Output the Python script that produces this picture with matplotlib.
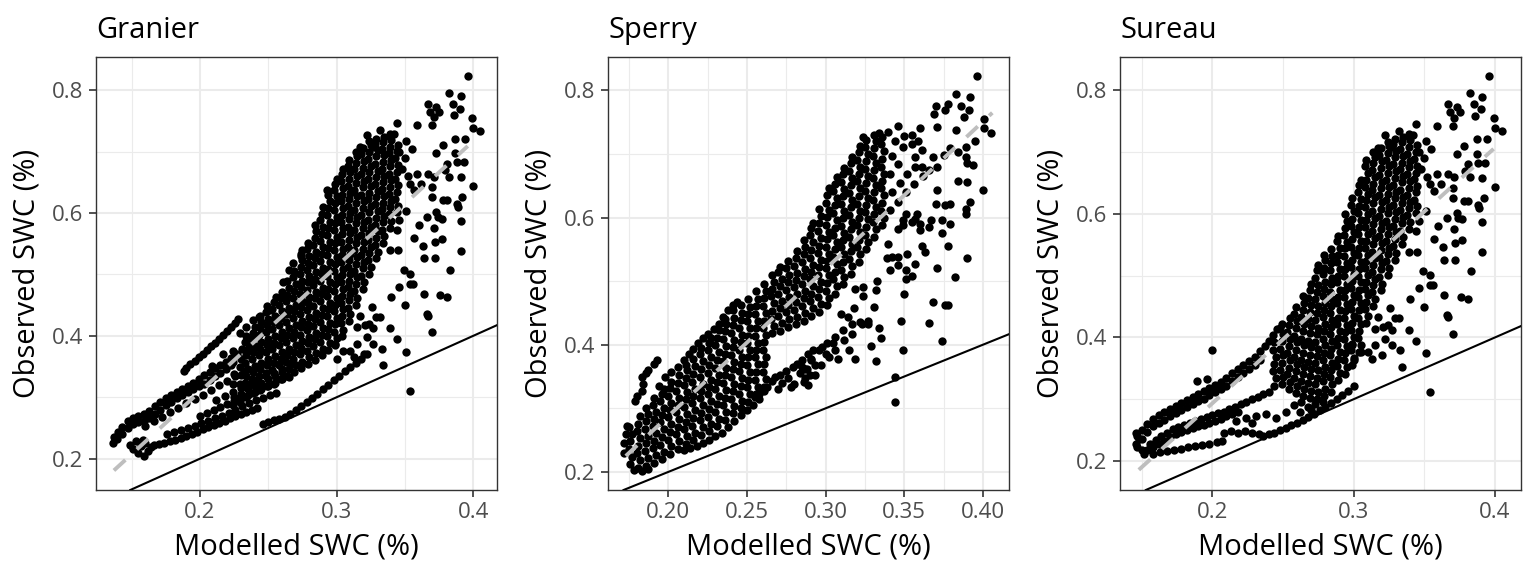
import numpy as np
import matplotlib
matplotlib.use("Agg")
import matplotlib.pyplot as plt
from matplotlib.ticker import FixedLocator

plt.rcParams['font.family'] = ['Open Sans', 'DejaVu Sans']

# (modelled SWC, observed SWC) pairs, grouped by region

# Granier: streaks in the dry (lower-left) part
granier_bands = [
    # thin upper streak
    (0.188,0.342),(0.190,0.348),(0.193,0.354),(0.196,0.359),(0.199,0.365),(0.202,0.371),(0.205,0.377),(0.208,0.383),
    (0.211,0.389),(0.214,0.395),(0.217,0.401),(0.220,0.408),(0.223,0.414),(0.226,0.421),(0.228,0.428),
    # upper band
    (0.137,0.236),(0.140,0.244),(0.143,0.252),(0.147,0.262),(0.151,0.267),(0.155,0.270),(0.159,0.272),(0.163,0.278),
    (0.167,0.285),(0.171,0.292),(0.175,0.298),(0.179,0.304),(0.183,0.309),(0.187,0.314),(0.191,0.318),(0.195,0.324),
    (0.199,0.330),(0.203,0.336),(0.207,0.341),(0.211,0.347),(0.215,0.352),(0.219,0.358),(0.223,0.364),(0.227,0.371),(0.231,0.378),
    (0.136,0.226),(0.139,0.232),(0.143,0.240),(0.147,0.250),(0.151,0.256),(0.155,0.260),(0.159,0.262),(0.163,0.266),
    (0.167,0.272),(0.171,0.280),(0.175,0.287),(0.179,0.293),(0.183,0.298),(0.187,0.303),(0.191,0.308),(0.195,0.313),
    (0.199,0.318),(0.203,0.322),(0.207,0.328),(0.211,0.334),(0.215,0.340),(0.219,0.346),(0.223,0.352),
    (0.160,0.253),(0.166,0.262),(0.172,0.268),(0.178,0.276),(0.184,0.283),(0.190,0.290),(0.196,0.297),(0.202,0.304),
    (0.208,0.312),(0.214,0.320),(0.220,0.327),(0.226,0.335),(0.232,0.343),
    # lower-left cluster
    (0.149,0.222),(0.151,0.215),(0.153,0.228),(0.155,0.210),(0.157,0.220),(0.159,0.205),(0.160,0.226),(0.162,0.213),
    (0.164,0.219),(0.158,0.231),
    # lower bands
    (0.166,0.222),(0.170,0.224),(0.174,0.226),(0.178,0.228),(0.182,0.231),(0.186,0.234),(0.190,0.237),(0.194,0.240),
    (0.198,0.244),(0.202,0.248),(0.206,0.251),(0.210,0.255),(0.214,0.258),(0.218,0.262),(0.222,0.266),(0.226,0.269),
    (0.230,0.273),(0.234,0.276),(0.238,0.280),(0.242,0.283),
    (0.176,0.240),(0.181,0.243),(0.186,0.246),(0.191,0.250),(0.196,0.254),(0.201,0.258),(0.206,0.262),(0.211,0.266),
    (0.216,0.270),(0.221,0.275),(0.226,0.280),(0.231,0.285),(0.236,0.290),(0.241,0.295),(0.246,0.299),(0.251,0.303),(0.256,0.307),
    (0.200,0.270),(0.205,0.274),(0.210,0.279),(0.215,0.284),(0.220,0.289),(0.225,0.294),(0.230,0.299),(0.235,0.304),
    (0.240,0.309),(0.245,0.314),(0.250,0.319),(0.255,0.324),(0.260,0.329),(0.265,0.333),
    (0.212,0.296),(0.218,0.302),(0.224,0.308),(0.230,0.315),(0.236,0.322),(0.242,0.328),(0.248,0.334),(0.254,0.340),
    (0.260,0.346),(0.266,0.352),
    (0.224,0.288),(0.225,0.300),(0.224,0.322),(0.225,0.338),(0.224,0.358),
    (0.229,0.292),(0.230,0.306),(0.229,0.322),(0.230,0.336),(0.229,0.350),(0.230,0.362),
    # lowest streak, close to the 1:1 line
    (0.246,0.256),(0.250,0.260),(0.254,0.263),(0.258,0.265),(0.262,0.268),(0.266,0.272),(0.270,0.279),(0.274,0.285),
    (0.278,0.292),(0.282,0.299),(0.286,0.306),(0.290,0.313),(0.294,0.320),(0.298,0.328),(0.302,0.335),(0.306,0.342),
    (0.310,0.349),(0.314,0.356),(0.318,0.363),(0.322,0.370),
    # loose points above the bands
    (0.229,0.404),(0.234,0.414),(0.239,0.425),(0.243,0.431),(0.251,0.442),(0.261,0.487),(0.265,0.508),(0.268,0.518),
    (0.274,0.530),(0.275,0.539),(0.236,0.387),(0.224,0.376),(0.217,0.371),(0.209,0.351),
]

# Granier: dense cloud, middle part
granier_core = [
    (0.234,0.301),(0.235,0.313),(0.233,0.323),(0.234,0.335),(0.235,0.346),(0.233,0.356),(0.234,0.368),(0.235,0.378),(0.233,0.390),(0.234,0.399),
    (0.239,0.307),(0.240,0.318),(0.238,0.329),(0.239,0.341),(0.240,0.351),(0.238,0.362),(0.239,0.373),(0.240,0.384),(0.238,0.395),(0.239,0.405),(0.240,0.414),
    (0.244,0.312),(0.245,0.324),(0.243,0.335),(0.244,0.346),(0.245,0.356),(0.243,0.368),(0.244,0.379),(0.245,0.390),(0.243,0.401),(0.244,0.412),(0.245,0.422),(0.244,0.433),
    (0.249,0.318),(0.250,0.329),(0.248,0.340),(0.249,0.352),(0.250,0.362),(0.248,0.373),(0.249,0.385),(0.250,0.395),(0.248,0.406),(0.249,0.417),(0.250,0.428),(0.248,0.439),(0.249,0.448),
    (0.254,0.322),(0.255,0.334),(0.253,0.345),(0.254,0.356),(0.255,0.367),(0.253,0.378),(0.254,0.389),(0.255,0.400),(0.253,0.411),(0.254,0.422),(0.255,0.433),(0.253,0.444),(0.254,0.455),(0.256,0.463),
    (0.259,0.329),(0.260,0.341),(0.258,0.352),(0.259,0.363),(0.260,0.373),(0.258,0.385),(0.259,0.396),(0.260,0.407),(0.258,0.418),(0.259,0.429),(0.260,0.440),(0.258,0.451),(0.259,0.462),(0.260,0.472),
    (0.264,0.335),(0.265,0.346),(0.263,0.358),(0.264,0.369),(0.265,0.379),(0.263,0.390),(0.264,0.402),(0.265,0.412),(0.263,0.423),(0.264,0.435),(0.265,0.445),(0.263,0.456),(0.264,0.467),(0.265,0.478),(0.264,0.489),
    (0.269,0.341),(0.270,0.352),(0.268,0.363),(0.269,0.374),(0.270,0.385),(0.268,0.396),(0.269,0.407),(0.270,0.418),(0.268,0.429),(0.269,0.440),(0.270,0.451),(0.268,0.462),(0.269,0.473),(0.270,0.484),(0.268,0.495),(0.269,0.505),
    (0.274,0.347),(0.275,0.358),(0.273,0.370),(0.274,0.381),(0.275,0.391),(0.273,0.402),(0.274,0.414),(0.275,0.424),(0.273,0.435),(0.274,0.447),(0.275,0.457),(0.273,0.468),(0.274,0.479),(0.275,0.490),(0.273,0.501),(0.274,0.512),(0.275,0.523),(0.274,0.533),
    (0.279,0.354),(0.280,0.365),(0.278,0.376),(0.279,0.388),(0.280,0.398),(0.278,0.409),(0.279,0.420),(0.280,0.431),(0.278,0.442),(0.279,0.453),(0.280,0.464),(0.278,0.475),(0.279,0.487),(0.280,0.497),(0.278,0.508),(0.279,0.519),(0.280,0.530),(0.278,0.541),(0.279,0.551),
    (0.284,0.361),(0.285,0.372),(0.283,0.383),(0.284,0.395),(0.285,0.405),(0.283,0.416),(0.284,0.427),(0.285,0.438),(0.283,0.449),(0.284,0.461),(0.285,0.471),(0.283,0.482),(0.284,0.493),(0.285,0.504),(0.283,0.515),(0.284,0.527),(0.285,0.537),(0.283,0.548),(0.284,0.559),(0.285,0.570),(0.284,0.581),
    (0.289,0.368),(0.290,0.379),(0.288,0.390),(0.289,0.402),(0.290,0.412),(0.288,0.423),(0.289,0.434),(0.290,0.445),(0.288,0.456),(0.289,0.468),(0.290,0.478),(0.288,0.489),(0.289,0.500),(0.290,0.511),(0.288,0.522),(0.289,0.534),(0.290,0.544),(0.288,0.555),(0.289,0.566),(0.290,0.577),(0.288,0.588),(0.289,0.599),(0.290,0.609),
    (0.294,0.377),(0.295,0.388),(0.293,0.399),(0.294,0.411),(0.295,0.421),(0.293,0.432),(0.294,0.443),(0.295,0.454),(0.293,0.465),(0.294,0.477),(0.295,0.487),(0.293,0.498),(0.294,0.509),(0.295,0.520),(0.293,0.531),(0.294,0.543),(0.295,0.553),(0.293,0.564),(0.294,0.575),(0.295,0.586),(0.293,0.597),(0.294,0.608),(0.295,0.619),(0.294,0.630),(0.293,0.638),
    (0.299,0.385),(0.300,0.396),(0.298,0.407),(0.299,0.419),(0.300,0.429),(0.298,0.440),(0.299,0.451),(0.300,0.462),(0.298,0.473),(0.299,0.485),(0.300,0.495),(0.298,0.506),(0.299,0.517),(0.300,0.528),(0.298,0.539),(0.299,0.551),(0.300,0.561),(0.298,0.572),(0.299,0.583),(0.300,0.594),(0.298,0.605),(0.299,0.616),(0.300,0.627),(0.298,0.638),(0.299,0.648),(0.300,0.656),
    (0.304,0.399),(0.305,0.410),(0.303,0.421),(0.304,0.433),(0.305,0.443),(0.303,0.454),(0.304,0.465),(0.305,0.476),(0.303,0.487),(0.304,0.499),(0.305,0.509),(0.303,0.520),(0.304,0.531),(0.305,0.542),(0.303,0.553),(0.304,0.565),(0.305,0.575),(0.303,0.586),(0.304,0.597),(0.305,0.608),(0.303,0.619),(0.304,0.630),(0.305,0.641),(0.303,0.652),(0.304,0.663),(0.305,0.671),
]

# Granier and Sureau agree in the wet part: shared dense cloud and loose points
wet_core = [
    (0.309,0.424),(0.310,0.435),(0.308,0.446),(0.309,0.458),(0.310,0.468),(0.308,0.479),(0.309,0.490),(0.310,0.501),(0.308,0.512),(0.309,0.524),(0.310,0.534),(0.308,0.545),(0.309,0.556),(0.310,0.567),(0.308,0.578),(0.309,0.590),(0.310,0.600),(0.308,0.611),(0.309,0.622),(0.310,0.633),(0.308,0.644),(0.309,0.655),(0.310,0.666),(0.308,0.677),(0.309,0.687),
    (0.314,0.451),(0.315,0.462),(0.313,0.473),(0.314,0.485),(0.315,0.495),(0.313,0.506),(0.314,0.517),(0.315,0.528),(0.313,0.539),(0.314,0.551),(0.315,0.561),(0.313,0.572),(0.314,0.583),(0.315,0.594),(0.313,0.605),(0.314,0.617),(0.315,0.627),(0.313,0.638),(0.314,0.649),(0.315,0.660),(0.313,0.671),(0.314,0.682),(0.315,0.692),(0.314,0.700),
    (0.319,0.476),(0.320,0.487),(0.318,0.498),(0.319,0.510),(0.320,0.520),(0.318,0.531),(0.319,0.542),(0.320,0.553),(0.318,0.564),(0.319,0.576),(0.320,0.586),(0.318,0.597),(0.319,0.608),(0.320,0.619),(0.318,0.630),(0.319,0.642),(0.320,0.652),(0.318,0.663),(0.319,0.674),(0.320,0.685),(0.318,0.696),(0.319,0.706),
    (0.324,0.501),(0.325,0.512),(0.323,0.523),(0.324,0.535),(0.325,0.545),(0.323,0.556),(0.324,0.567),(0.325,0.578),(0.323,0.589),(0.324,0.601),(0.325,0.611),(0.323,0.622),(0.324,0.633),(0.325,0.644),(0.323,0.655),(0.324,0.667),(0.325,0.677),(0.323,0.688),(0.324,0.699),(0.325,0.710),(0.324,0.717),
    (0.329,0.526),(0.330,0.537),(0.328,0.548),(0.329,0.560),(0.330,0.570),(0.328,0.581),(0.329,0.592),(0.330,0.603),(0.328,0.614),(0.329,0.626),(0.330,0.636),(0.328,0.647),(0.329,0.658),(0.330,0.669),(0.328,0.680),(0.329,0.692),(0.330,0.702),(0.328,0.713),(0.329,0.721),
    (0.334,0.551),(0.335,0.562),(0.333,0.573),(0.334,0.585),(0.335,0.595),(0.333,0.606),(0.334,0.617),(0.335,0.628),(0.333,0.639),(0.334,0.651),(0.335,0.661),(0.333,0.672),(0.334,0.683),(0.335,0.694),(0.333,0.705),(0.334,0.716),(0.335,0.724),
    (0.339,0.576),(0.340,0.587),(0.338,0.598),(0.339,0.610),(0.340,0.620),(0.338,0.631),(0.339,0.642),(0.340,0.653),(0.338,0.664),(0.339,0.676),(0.340,0.686),(0.338,0.697),(0.339,0.708),(0.340,0.719),
    (0.344,0.601),(0.345,0.612),(0.343,0.623),(0.344,0.635),(0.345,0.645),(0.343,0.656),(0.344,0.667),(0.345,0.678),(0.343,0.689),(0.344,0.701),(0.345,0.711),
]

wet_sparse = [
    (0.332,0.735),(0.344,0.746),(0.322,0.727),(0.317,0.707),(0.327,0.708),(0.339,0.729),(0.351,0.718),(0.359,0.743),
    (0.367,0.778),(0.368,0.765),(0.373,0.773),(0.375,0.765),(0.371,0.756),(0.370,0.743),(0.382,0.796),(0.385,0.778),
    (0.386,0.759),(0.391,0.790),(0.390,0.770),(0.396,0.823),(0.399,0.755),(0.405,0.734),(0.400,0.739),(0.394,0.721),
    (0.387,0.721),(0.378,0.710),(0.373,0.697),(0.381,0.680),(0.387,0.697),(0.388,0.683),(0.393,0.683),(0.379,0.670),
    (0.382,0.659),(0.391,0.658),(0.371,0.659),(0.367,0.664),(0.359,0.664),(0.354,0.648),(0.362,0.648),(0.357,0.637),
    (0.370,0.642),(0.370,0.626),(0.378,0.621),(0.381,0.621),(0.388,0.615),(0.389,0.610),(0.392,0.626),(0.400,0.644),
    (0.391,0.587),(0.391,0.538),(0.383,0.508),(0.377,0.558),(0.372,0.553),(0.371,0.575),(0.372,0.526),(0.364,0.526),
    (0.363,0.546),(0.357,0.559),(0.360,0.580),(0.366,0.594),(0.374,0.594),(0.377,0.591),(0.373,0.602),(0.351,0.604),
    (0.346,0.588),(0.344,0.572),(0.339,0.539),(0.345,0.539),(0.349,0.507),(0.354,0.501),(0.354,0.485),(0.356,0.485),
    (0.346,0.480),(0.340,0.463),(0.350,0.450),(0.364,0.468),(0.366,0.436),(0.367,0.433),(0.370,0.406),(0.376,0.466),
    (0.381,0.463),(0.351,0.374),(0.354,0.311),(0.334,0.352),(0.333,0.379),(0.339,0.412),(0.344,0.395),(0.332,0.431),
    (0.329,0.431),(0.326,0.447),(0.324,0.420),(0.327,0.412),(0.322,0.398),(0.321,0.417),(0.317,0.433),(0.315,0.414),
    (0.310,0.376),(0.305,0.376),(0.300,0.363),(0.299,0.387),(0.315,0.387),(0.313,0.365),(0.320,0.371),(0.327,0.387),
    (0.350,0.690),(0.355,0.705),(0.348,0.672),(0.352,0.660),(0.346,0.700),(0.342,0.728),
]

# Sperry
sperry_bands = [
    # tangle and arm at the dry end
    (0.172,0.230),(0.172,0.245),(0.173,0.260),(0.174,0.272),(0.178,0.203),(0.183,0.201),(0.187,0.204),
    (0.183,0.328),(0.184,0.338),(0.183,0.349),(0.187,0.360),(0.191,0.370),(0.193,0.376),(0.186,0.355),(0.179,0.312),(0.180,0.320),
    # upper edge band
    (0.194,0.335),(0.198,0.349),(0.202,0.357),(0.206,0.365),(0.210,0.376),(0.213,0.386),(0.216,0.394),(0.219,0.402),
    (0.222,0.410),(0.225,0.417),(0.229,0.425),(0.232,0.433),(0.235,0.444),(0.238,0.454),(0.241,0.462),(0.244,0.467),
    # lower streak
    (0.210,0.234),(0.214,0.237),(0.218,0.241),(0.222,0.246),(0.226,0.251),(0.230,0.256),(0.234,0.262),(0.238,0.270),
    (0.242,0.280),(0.246,0.290),(0.250,0.298),(0.254,0.306),(0.258,0.314),
    # lower right cluster
    (0.263,0.334),(0.266,0.343),(0.268,0.349),(0.271,0.352),(0.272,0.340),(0.275,0.358),(0.276,0.347),(0.279,0.365),
    (0.280,0.339),(0.282,0.370),(0.284,0.355),(0.285,0.376),(0.287,0.362),(0.289,0.386),(0.290,0.352),(0.292,0.392),
    (0.293,0.368),(0.270,0.330),(0.278,0.333),(0.286,0.342),(0.255,0.318),(0.258,0.322),(0.261,0.327),
    # lower arm
    (0.285,0.365),(0.291,0.378),(0.296,0.391),(0.301,0.402),(0.306,0.412),(0.311,0.423),(0.317,0.433),(0.322,0.436),(0.327,0.438),
    # upper fill beyond the core
    (0.341,0.612),(0.342,0.640),(0.341,0.668),(0.342,0.696),(0.346,0.625),(0.347,0.655),(0.346,0.684),(0.351,0.640),
    (0.352,0.668),(0.356,0.652),(0.357,0.680),(0.362,0.665),(0.344,0.720),(0.350,0.728),(0.340,0.735),(0.355,0.730),
]

sperry_core = [
    (0.176,0.212),(0.177,0.224),(0.175,0.236),(0.176,0.248),(0.177,0.259),(0.175,0.270),
    (0.181,0.206),(0.182,0.218),(0.180,0.229),(0.181,0.241),(0.182,0.253),(0.180,0.264),(0.181,0.276),(0.182,0.288),
    (0.186,0.210),(0.187,0.222),(0.185,0.233),(0.186,0.245),(0.187,0.257),(0.185,0.268),(0.186,0.280),(0.187,0.291),(0.186,0.301),
    (0.191,0.214),(0.192,0.226),(0.190,0.237),(0.191,0.249),(0.192,0.261),(0.190,0.272),(0.191,0.284),(0.192,0.295),(0.190,0.306),(0.191,0.316),
    (0.196,0.220),(0.197,0.232),(0.195,0.243),(0.196,0.255),(0.197,0.267),(0.195,0.278),(0.196,0.290),(0.197,0.301),(0.195,0.312),(0.196,0.323),(0.197,0.331),
    (0.201,0.228),(0.202,0.240),(0.200,0.251),(0.201,0.263),(0.202,0.275),(0.200,0.286),(0.201,0.298),(0.202,0.309),(0.200,0.320),(0.201,0.332),(0.202,0.342),
    (0.206,0.236),(0.207,0.248),(0.205,0.259),(0.206,0.271),(0.207,0.283),(0.205,0.294),(0.206,0.306),(0.207,0.317),(0.205,0.328),(0.206,0.340),(0.207,0.352),
    (0.211,0.244),(0.212,0.256),(0.210,0.267),(0.211,0.279),(0.212,0.291),(0.210,0.302),(0.211,0.314),(0.212,0.325),(0.210,0.336),(0.211,0.348),(0.212,0.360),(0.211,0.368),
    (0.216,0.250),(0.217,0.262),(0.215,0.273),(0.216,0.285),(0.217,0.297),(0.215,0.308),(0.216,0.320),(0.217,0.331),(0.215,0.342),(0.216,0.354),(0.217,0.366),(0.216,0.378),
    (0.221,0.258),(0.222,0.270),(0.220,0.281),(0.221,0.293),(0.222,0.305),(0.220,0.316),(0.221,0.328),(0.222,0.339),(0.220,0.350),(0.221,0.362),(0.222,0.374),(0.220,0.385),(0.221,0.395),
    (0.226,0.264),(0.227,0.276),(0.225,0.287),(0.226,0.299),(0.227,0.311),(0.225,0.322),(0.226,0.334),(0.227,0.345),(0.225,0.356),(0.226,0.368),(0.227,0.380),(0.225,0.391),(0.226,0.402),(0.227,0.410),
    (0.231,0.272),(0.232,0.284),(0.230,0.295),(0.231,0.307),(0.232,0.319),(0.230,0.330),(0.231,0.342),(0.232,0.353),(0.230,0.364),(0.231,0.376),(0.232,0.388),(0.230,0.399),(0.231,0.411),(0.232,0.423),
    (0.236,0.282),(0.237,0.294),(0.235,0.305),(0.236,0.317),(0.237,0.329),(0.235,0.340),(0.236,0.352),(0.237,0.363),(0.235,0.374),(0.236,0.386),(0.237,0.398),(0.235,0.409),(0.236,0.421),(0.237,0.432),(0.236,0.440),
    (0.241,0.292),(0.242,0.304),(0.240,0.315),(0.241,0.327),(0.242,0.339),(0.240,0.350),(0.241,0.362),(0.242,0.373),(0.240,0.384),(0.241,0.396),(0.242,0.408),(0.240,0.419),(0.241,0.431),(0.242,0.442),(0.241,0.454),
    (0.246,0.300),(0.247,0.312),(0.245,0.323),(0.246,0.335),(0.247,0.347),(0.245,0.358),(0.246,0.370),(0.247,0.381),(0.245,0.392),(0.246,0.404),(0.247,0.416),(0.245,0.427),(0.246,0.439),(0.247,0.450),(0.246,0.462),
    (0.251,0.310),(0.252,0.322),(0.250,0.333),(0.251,0.345),(0.252,0.357),(0.250,0.368),(0.251,0.380),(0.252,0.391),(0.250,0.402),(0.251,0.414),(0.252,0.426),(0.250,0.437),(0.251,0.449),(0.252,0.460),(0.251,0.472),
    (0.256,0.322),(0.257,0.334),(0.255,0.345),(0.256,0.357),(0.257,0.369),(0.255,0.380),(0.256,0.392),(0.257,0.403),(0.255,0.414),(0.256,0.426),(0.257,0.438),(0.255,0.449),(0.256,0.461),(0.257,0.472),(0.256,0.484),
    (0.261,0.334),(0.262,0.346),(0.260,0.357),(0.261,0.369),(0.262,0.381),(0.260,0.392),(0.261,0.404),(0.262,0.415),(0.260,0.426),(0.261,0.438),(0.262,0.450),(0.260,0.461),(0.261,0.473),(0.262,0.484),(0.261,0.495),
    (0.266,0.418),(0.267,0.430),(0.265,0.441),(0.266,0.453),(0.267,0.465),(0.265,0.476),(0.266,0.488),(0.267,0.499),(0.266,0.509),
    (0.271,0.422),(0.272,0.434),(0.270,0.445),(0.271,0.457),(0.272,0.469),(0.270,0.480),(0.271,0.492),(0.272,0.503),(0.270,0.514),(0.271,0.522),
    (0.276,0.428),(0.277,0.440),(0.275,0.451),(0.276,0.463),(0.277,0.475),(0.275,0.486),(0.276,0.498),(0.277,0.509),(0.275,0.520),(0.276,0.532),
    (0.281,0.432),(0.282,0.444),(0.280,0.455),(0.281,0.467),(0.282,0.479),(0.280,0.490),(0.281,0.502),(0.282,0.513),(0.280,0.524),(0.281,0.536),(0.282,0.548),
    (0.286,0.438),(0.287,0.450),(0.285,0.461),(0.286,0.473),(0.287,0.485),(0.285,0.496),(0.286,0.508),(0.287,0.519),(0.285,0.530),(0.286,0.542),(0.287,0.554),(0.286,0.565),
    (0.291,0.445),(0.292,0.457),(0.290,0.468),(0.291,0.480),(0.292,0.492),(0.290,0.503),(0.291,0.515),(0.292,0.526),(0.290,0.537),(0.291,0.549),(0.292,0.561),(0.290,0.572),(0.291,0.584),(0.292,0.592),
    (0.296,0.452),(0.297,0.464),(0.295,0.475),(0.296,0.487),(0.297,0.499),(0.295,0.510),(0.296,0.522),(0.297,0.533),(0.295,0.544),(0.296,0.556),(0.297,0.568),(0.295,0.579),(0.296,0.591),(0.297,0.602),(0.296,0.614),
    (0.301,0.462),(0.302,0.474),(0.300,0.485),(0.301,0.497),(0.302,0.509),(0.300,0.520),(0.301,0.532),(0.302,0.543),(0.300,0.554),(0.301,0.566),(0.302,0.578),(0.300,0.589),(0.301,0.601),(0.302,0.612),(0.300,0.623),(0.301,0.635),(0.302,0.646),
    (0.306,0.480),(0.307,0.492),(0.305,0.503),(0.306,0.515),(0.307,0.527),(0.305,0.538),(0.306,0.550),(0.307,0.561),(0.305,0.572),(0.306,0.584),(0.307,0.596),(0.305,0.607),(0.306,0.619),(0.307,0.630),(0.305,0.641),(0.306,0.653),(0.307,0.664),
    (0.311,0.495),(0.312,0.507),(0.310,0.518),(0.311,0.530),(0.312,0.542),(0.310,0.553),(0.311,0.565),(0.312,0.576),(0.310,0.587),(0.311,0.599),(0.312,0.611),(0.310,0.622),(0.311,0.634),(0.312,0.645),(0.310,0.656),(0.311,0.668),(0.312,0.678),
    (0.316,0.512),(0.317,0.524),(0.315,0.535),(0.316,0.547),(0.317,0.559),(0.315,0.570),(0.316,0.582),(0.317,0.593),(0.315,0.604),(0.316,0.616),(0.317,0.628),(0.315,0.639),(0.316,0.651),(0.317,0.662),(0.315,0.673),(0.316,0.685),(0.317,0.695),
    (0.321,0.530),(0.322,0.542),(0.320,0.553),(0.321,0.565),(0.322,0.577),(0.320,0.588),(0.321,0.600),(0.322,0.611),(0.320,0.622),(0.321,0.634),(0.322,0.646),(0.320,0.657),(0.321,0.669),(0.322,0.680),(0.320,0.691),(0.321,0.703),(0.322,0.712),
    (0.326,0.550),(0.327,0.562),(0.325,0.573),(0.326,0.585),(0.327,0.597),(0.325,0.608),(0.326,0.620),(0.327,0.631),(0.325,0.642),(0.326,0.654),(0.327,0.666),(0.325,0.677),(0.326,0.689),(0.327,0.700),(0.325,0.711),(0.326,0.722),
    (0.331,0.570),(0.332,0.582),(0.330,0.593),(0.331,0.605),(0.332,0.617),(0.330,0.628),(0.331,0.640),(0.332,0.651),(0.330,0.662),(0.331,0.674),(0.332,0.686),(0.330,0.697),(0.331,0.709),(0.332,0.720),(0.331,0.729),
    (0.336,0.588),(0.337,0.600),(0.335,0.611),(0.336,0.623),(0.337,0.635),(0.335,0.646),(0.336,0.658),(0.337,0.669),(0.335,0.680),(0.336,0.692),(0.337,0.704),(0.335,0.715),(0.336,0.727),
]

sperry_sparse = [
    (0.396,0.823),(0.383,0.795),(0.392,0.790),(0.378,0.779),(0.376,0.769),(0.386,0.776),(0.370,0.776),(0.369,0.763),
    (0.388,0.758),(0.391,0.769),(0.401,0.755),(0.405,0.733),(0.401,0.740),(0.395,0.721),(0.383,0.737),(0.371,0.742),
    (0.360,0.741),(0.346,0.744),(0.334,0.733),(0.324,0.727),(0.379,0.710),(0.384,0.703),(0.389,0.711),(0.389,0.695),
    (0.390,0.685),(0.394,0.682),(0.384,0.658),(0.390,0.656),(0.375,0.698),(0.371,0.680),(0.368,0.695),(0.361,0.680),
    (0.366,0.674),(0.357,0.695),(0.355,0.716),(0.349,0.711),(0.359,0.721),(0.361,0.706),(0.371,0.643),(0.370,0.622),
    (0.379,0.622),(0.376,0.619),(0.389,0.614),(0.389,0.606),(0.392,0.624),(0.400,0.643),(0.379,0.590),(0.374,0.596),
    (0.374,0.575),(0.378,0.556),(0.390,0.537),(0.382,0.507),(0.371,0.521),(0.363,0.546),(0.361,0.556),(0.360,0.580),
    (0.367,0.596),(0.366,0.585),(0.358,0.606),(0.357,0.598),(0.360,0.590),(0.355,0.593),(0.351,0.606),(0.349,0.588),
    (0.346,0.582),(0.349,0.596),(0.357,0.527),(0.352,0.542),(0.346,0.538),(0.342,0.538),(0.339,0.537),(0.346,0.525),
    (0.340,0.559),(0.355,0.508),(0.351,0.504),(0.350,0.479),(0.368,0.467),(0.376,0.463),(0.378,0.462),(0.366,0.434),
    (0.374,0.406),(0.348,0.438),(0.349,0.392),(0.344,0.350),(0.344,0.310),(0.332,0.374),(0.335,0.411),(0.334,0.427),
    (0.329,0.398),(0.327,0.432),(0.323,0.432),(0.331,0.460),(0.324,0.476),(0.324,0.491),(0.333,0.500),(0.332,0.486),
    (0.319,0.488),(0.318,0.458),(0.314,0.444),(0.310,0.449),(0.317,0.417),(0.312,0.407),(0.315,0.391),(0.319,0.378),
    (0.306,0.391),(0.305,0.402),(0.302,0.381),(0.308,0.378),(0.300,0.386),(0.297,0.368),(0.291,0.376),(0.288,0.362),
    (0.287,0.347),(0.293,0.352),(0.289,0.336),(0.298,0.397),(0.351,0.517),(0.341,0.517),
]

# Sureau
sureau_bands = [
    # upper band
    (0.147,0.240),(0.150,0.250),(0.154,0.260),(0.158,0.268),(0.162,0.274),(0.166,0.279),(0.170,0.284),(0.174,0.289),
    (0.178,0.294),(0.182,0.299),(0.186,0.304),(0.190,0.309),(0.194,0.313),(0.198,0.318),(0.202,0.323),(0.206,0.328),
    (0.210,0.335),(0.214,0.342),(0.218,0.349),(0.222,0.355),(0.226,0.362),(0.230,0.369),(0.234,0.378),(0.237,0.386),
    (0.240,0.395),(0.243,0.404),(0.246,0.413),(0.249,0.422),
    (0.146,0.228),(0.150,0.236),(0.154,0.247),(0.158,0.256),(0.162,0.262),(0.166,0.267),(0.170,0.272),(0.174,0.277),
    (0.178,0.282),(0.182,0.287),(0.186,0.292),(0.190,0.297),(0.194,0.301),(0.198,0.306),(0.202,0.311),(0.206,0.316),
    (0.210,0.322),(0.214,0.329),(0.218,0.336),(0.222,0.342),(0.226,0.349),(0.230,0.356),(0.234,0.364),
    # middle band
    (0.156,0.228),(0.160,0.234),(0.164,0.240),(0.168,0.246),(0.172,0.251),(0.176,0.255),(0.180,0.259),(0.184,0.262),
    (0.188,0.265),(0.192,0.268),(0.196,0.271),(0.200,0.274),(0.204,0.277),(0.208,0.280),(0.212,0.284),(0.216,0.288),
    (0.220,0.292),(0.224,0.296),(0.228,0.300),(0.232,0.304),(0.236,0.308),(0.240,0.312),
    (0.154,0.217),(0.158,0.222),(0.162,0.228),(0.166,0.233),(0.170,0.238),(0.174,0.243),(0.178,0.247),(0.182,0.250),
    (0.186,0.253),(0.190,0.256),(0.194,0.259),(0.198,0.262),(0.202,0.265),(0.206,0.268),(0.210,0.272),(0.214,0.276),(0.218,0.280),
    # lower band
    (0.158,0.212),(0.163,0.214),(0.168,0.216),(0.173,0.218),(0.178,0.220),(0.183,0.222),(0.188,0.224),(0.193,0.226),
    (0.198,0.228),(0.203,0.230),(0.207,0.232),
    (0.208,0.246),(0.213,0.248),(0.218,0.245),(0.223,0.249),(0.228,0.246),(0.233,0.244),
    (0.217,0.265),(0.224,0.270),(0.231,0.272),(0.238,0.276),(0.245,0.270),(0.252,0.280),(0.228,0.262),
    (0.258,0.290),(0.263,0.295),(0.268,0.288),(0.273,0.292),(0.278,0.295),(0.262,0.280),(0.270,0.282),
    # lowest streak along the 1:1 line
    (0.236,0.240),(0.240,0.243),(0.244,0.246),(0.248,0.250),(0.252,0.254),(0.256,0.258),(0.260,0.262),(0.264,0.266),
    (0.268,0.271),(0.272,0.276),(0.276,0.282),(0.280,0.288),(0.284,0.294),(0.288,0.300),(0.292,0.307),(0.296,0.314),(0.300,0.322),
    # left lump and loose points
    (0.146,0.245),(0.148,0.236),(0.147,0.222),(0.150,0.218),(0.152,0.212),
    (0.200,0.380),(0.189,0.330),(0.196,0.333),
]

sureau_core = [
    (0.244,0.322),(0.245,0.334),(0.243,0.346),(0.244,0.357),(0.245,0.369),(0.243,0.380),(0.244,0.392),
    (0.249,0.324),(0.250,0.336),(0.248,0.347),(0.249,0.359),(0.250,0.371),(0.248,0.382),(0.249,0.394),(0.250,0.405),(0.248,0.416),
    (0.254,0.316),(0.255,0.328),(0.253,0.340),(0.254,0.351),(0.255,0.363),(0.253,0.375),(0.254,0.386),(0.255,0.398),(0.253,0.409),(0.254,0.420),(0.255,0.432),
    (0.259,0.310),(0.260,0.322),(0.258,0.334),(0.259,0.345),(0.260,0.357),(0.258,0.369),(0.259,0.380),(0.260,0.392),(0.258,0.403),(0.259,0.415),(0.260,0.426),(0.258,0.438),(0.259,0.449),
    (0.264,0.305),(0.265,0.317),(0.263,0.329),(0.264,0.340),(0.265,0.352),(0.263,0.364),(0.264,0.375),(0.265,0.387),(0.263,0.398),(0.264,0.410),(0.265,0.421),(0.263,0.433),(0.264,0.444),(0.265,0.456),(0.264,0.467),
    (0.269,0.302),(0.270,0.314),(0.268,0.326),(0.269,0.337),(0.270,0.349),(0.268,0.361),(0.269,0.372),(0.270,0.384),(0.268,0.395),(0.269,0.407),(0.270,0.418),(0.268,0.430),(0.269,0.441),(0.270,0.453),(0.268,0.464),(0.269,0.476),(0.270,0.487),
    (0.274,0.300),(0.275,0.312),(0.273,0.324),(0.274,0.335),(0.275,0.347),(0.273,0.359),(0.274,0.370),(0.275,0.382),(0.273,0.393),(0.274,0.405),(0.275,0.416),(0.273,0.428),(0.274,0.439),(0.275,0.451),(0.273,0.462),(0.274,0.474),(0.275,0.485),(0.273,0.497),(0.274,0.509),(0.275,0.518),
    (0.279,0.305),(0.280,0.317),(0.278,0.329),(0.279,0.340),(0.280,0.352),(0.278,0.364),(0.279,0.375),(0.280,0.387),(0.278,0.398),(0.279,0.410),(0.280,0.421),(0.278,0.433),(0.279,0.444),(0.280,0.456),(0.278,0.467),(0.279,0.479),(0.280,0.490),(0.278,0.502),(0.279,0.513),(0.280,0.525),(0.279,0.534),
    (0.284,0.312),(0.285,0.324),(0.283,0.336),(0.284,0.347),(0.285,0.359),(0.283,0.371),(0.284,0.382),(0.285,0.394),(0.283,0.405),(0.284,0.417),(0.285,0.428),(0.283,0.440),(0.284,0.451),(0.285,0.463),(0.283,0.474),(0.284,0.486),(0.285,0.497),(0.283,0.509),(0.284,0.520),(0.285,0.532),(0.284,0.543),
    (0.289,0.331),(0.290,0.342),(0.288,0.354),(0.289,0.365),(0.290,0.376),(0.288,0.387),(0.289,0.399),(0.290,0.410),(0.288,0.421),(0.289,0.432),(0.290,0.444),(0.288,0.455),(0.289,0.466),(0.290,0.477),(0.288,0.489),(0.289,0.500),(0.290,0.511),(0.288,0.522),(0.289,0.534),(0.290,0.545),(0.288,0.556),(0.289,0.565),
    (0.294,0.341),(0.295,0.352),(0.293,0.364),(0.294,0.375),(0.295,0.386),(0.293,0.397),(0.294,0.409),(0.295,0.420),(0.293,0.431),(0.294,0.442),(0.295,0.454),(0.293,0.465),(0.294,0.476),(0.295,0.487),(0.293,0.499),(0.294,0.510),(0.295,0.521),(0.293,0.532),(0.294,0.544),(0.295,0.555),(0.293,0.566),(0.294,0.577),(0.295,0.589),(0.294,0.600),
    (0.299,0.356),(0.300,0.367),(0.298,0.379),(0.299,0.390),(0.300,0.401),(0.298,0.412),(0.299,0.424),(0.300,0.435),(0.298,0.446),(0.299,0.457),(0.300,0.469),(0.298,0.480),(0.299,0.491),(0.300,0.502),(0.298,0.514),(0.299,0.525),(0.300,0.536),(0.298,0.547),(0.299,0.559),(0.300,0.570),(0.298,0.581),(0.299,0.592),(0.300,0.604),(0.298,0.615),(0.299,0.626),
    (0.304,0.376),(0.305,0.387),(0.303,0.399),(0.304,0.410),(0.305,0.421),(0.303,0.432),(0.304,0.444),(0.305,0.455),(0.303,0.466),(0.304,0.477),(0.305,0.489),(0.303,0.500),(0.304,0.511),(0.305,0.522),(0.303,0.534),(0.304,0.545),(0.305,0.556),(0.303,0.567),(0.304,0.579),(0.305,0.590),(0.303,0.601),(0.304,0.612),(0.305,0.624),(0.303,0.635),(0.304,0.646),(0.305,0.655),
]

models = ['Granier', 'Sperry', 'Sureau']
fit_slope = [2.039, 2.316, 2.070]
fit_intercept = [-0.0985, -0.1756, -0.1207]
fit_xrange = [(0.137, 0.396), (0.173, 0.406), (0.148, 0.399)]

x_major = [[0.2, 0.3, 0.4], [0.20, 0.25, 0.30, 0.35, 0.40], [0.2, 0.3, 0.4]]
x_minor = [[0.15, 0.25, 0.35], [0.175, 0.225, 0.275, 0.325, 0.375], [0.15, 0.25, 0.35]]
x_ticklabels = [['0.2', '0.3', '0.4'], ['0.20', '0.25', '0.30', '0.35', '0.40'], ['0.2', '0.3', '0.4']]
y_major = [0.2, 0.4, 0.6, 0.8]
y_minor = [0.3, 0.5, 0.7]
y_ticklabels = ['0.2', '0.4', '0.6', '0.8']

points = [
    np.array(granier_bands + granier_core + wet_core + wet_sparse),
    np.array(sperry_bands + sperry_core + sperry_sparse),
    np.array(sureau_bands + sureau_core + wet_core + wet_sparse),
]

# layout (pixels on a 1536 x 576 canvas)
W, H = 1536, 576
panel_left = [96, 608, 1120]
panel_w, panel_top, panel_bottom = 401, 57, 490
xlims = [(0.1239, 0.4174), (0.1617, 0.4166), (0.1347, 0.4184)]
ylims = [(0.149, 0.854), (0.1716, 0.8524), (0.153, 0.854)]

fig = plt.figure(figsize=(W / 100, H / 100), dpi=100)
fig.patch.set_facecolor('white')

for i, name in enumerate(models):
    ax = fig.add_axes([panel_left[i] / W, 1 - panel_bottom / H,
                       panel_w / W, (panel_bottom - panel_top) / H])
    d = points[i]
    ax.scatter(d[:, 0], d[:, 1], s=36, c='black', linewidths=0, zorder=2)
    ax.axline((0.2, 0.2), slope=1, color='black', lw=1.5, zorder=3)
    xs = np.array(fit_xrange[i])
    ax.plot(xs, fit_intercept[i] + fit_slope[i] * xs, color='#BEBEBE', lw=2.8,
            linestyle=(0, (4, 4)), dash_capstyle='butt', zorder=4)

    ax.set_xlim(*xlims[i])
    ax.set_ylim(*ylims[i])
    ax.xaxis.set_major_locator(FixedLocator(x_major[i]))
    ax.xaxis.set_minor_locator(FixedLocator(x_minor[i]))
    ax.set_xticklabels(x_ticklabels[i])
    ax.yaxis.set_major_locator(FixedLocator(y_major))
    ax.yaxis.set_minor_locator(FixedLocator(y_minor))
    ax.set_yticklabels(y_ticklabels)

    ax.set_axisbelow(True)
    ax.grid(which='major', color='#EBEBEB', lw=1.5)
    ax.grid(which='minor', color='#EBEBEB', lw=0.8)
    for sp in ax.spines.values():
        sp.set_color('#333333')
        sp.set_linewidth(1.0)
    ax.tick_params(which='major', length=5, width=1.2, color='#333333',
                   labelcolor='#4D4D4D', labelsize=16, pad=4)
    ax.tick_params(which='minor', length=0)

    ax.set_xlabel('Modelled SWC (%)', fontsize=21)
    ax.xaxis.set_label_coords(0.5, -0.097)
    ax.set_ylabel('Observed SWC (%)', fontsize=21)
    ax.yaxis.set_label_coords(-0.135, 0.5)
    ax.set_title(name, loc='left', fontsize=21, pad=14)

fig.savefig('out.png', dpi=100)
